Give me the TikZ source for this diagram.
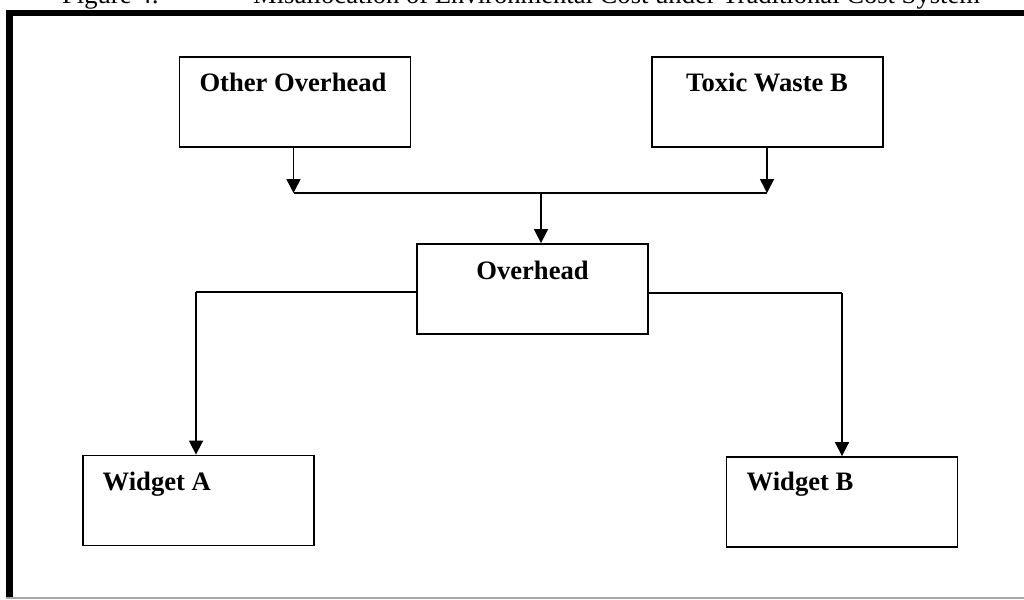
\documentclass[tikz,border=0pt]{standalone}
\usepackage{fontspec}
\setmainfont{Liberation Serif}
\usetikzlibrary{arrows.meta}
\begin{document}
\begin{tikzpicture}[x=1pt,y=-1pt,
  box/.style={draw, line width=1.8pt, minimum width=231pt, minimum height=90pt, inner sep=0pt},
  lbl/.style={font=\fontsize{26.6}{30}\selectfont\bfseries, inner sep=0pt},
  ttl/.style={font=\fontsize{26.6}{30}\selectfont, inner sep=0pt},
  ln/.style={line width=1.6pt},
  arr/.style={line width=1.6pt, -{Triangle[width=14pt,length=14pt]}}]
\useasboundingbox (0,0) rectangle (1024,599);
% title (cut by the page top)
\node[ttl, anchor=base west] (fig) at (62,4) {Figure 4:};
\node[ttl, anchor=base west] (title) at (253,4) {Misallocation of Environmental Cost under Traditional Cost System};
% frame
\fill[white] (6,10) rectangle (1024,599);
\draw[line width=6.5pt] (9.5,598) -- (9.5,13) -- (1024,13);
\draw[gray!70, line width=1.2pt] (6,598) -- (1024,598);
% boxes
\node[box] (oo) at (295,102) {};
\node[box] (tw) at (767.5,102) {};
\node[box] (ov) at (532.5,289) {};
\node[box] (wa) at (198.5,500.5) {};
\node[box] (wb) at (842,502) {};
% labels
\node[lbl, anchor=base] (ootx) at (293,92) {Other Overhead};
\node[lbl, anchor=base] (twtx) at (767,92) {Toxic Waste B};
\node[lbl, anchor=base] (ovtx) at (532.5,279) {Overhead};
\node[lbl, anchor=base west] (watx) at (102.5,490) {Widget A};
\node[lbl, anchor=base west] (wbtx) at (746.5,490) {Widget B};
% connectors
\coordinate (hl) at (293.5,193);
\coordinate (hr) at (767,193);
\coordinate (hm) at (541,193);
\draw[arr] (oo.south -| hl) -- (hl);
\draw[arr] (tw.south -| hr) -- (hr);
\draw[ln] (hl) -- (hr);
\draw[arr] (hm) -- (hm |- ov.north);
\coordinate (al) at (196,292);
\coordinate (ar) at (842,293);
\draw[ln] (ov.west |- al) -- (al);
\draw[arr] (al) -- (al |- wa.north);
\draw[ln] (ov.east |- ar) -- (ar);
\draw[arr] (ar) -- (ar |- wb.north);
\end{tikzpicture}
\end{document}
